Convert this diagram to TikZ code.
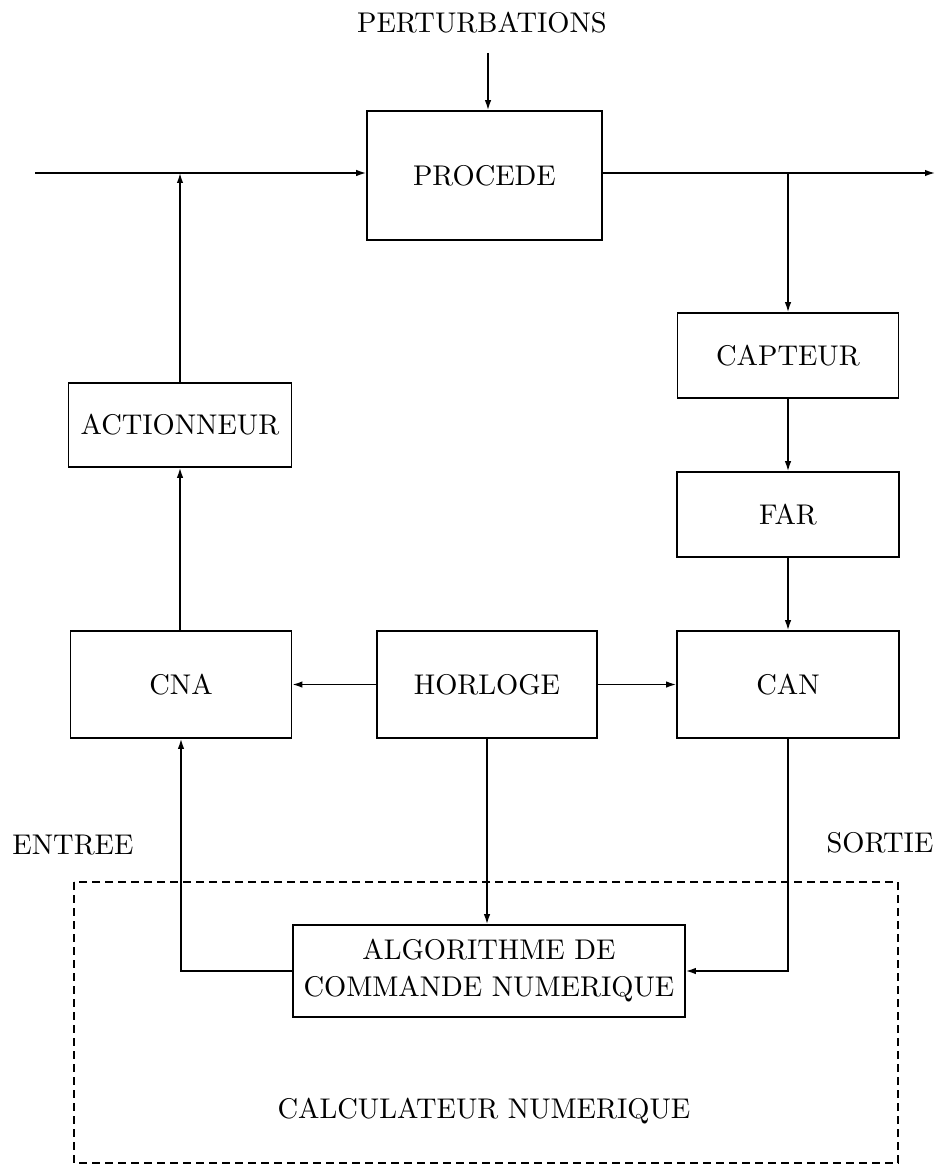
\documentclass[tikz,border=0pt]{standalone}
\usetikzlibrary{arrows.meta}
\font\bigrm=cmr10 at 28.5pt
\def\blkfont{\bigrm\baselineskip=37pt\relax}
\begin{document}
\begin{tikzpicture}[x=1pt,y=-1pt,
  blk/.style={draw,line width=1.7pt,inner sep=0pt,align=center,font=\blkfont},
  lbl/.style={inner sep=0pt,font=\bigrm},
  conn/.style={line width=1.5pt},
  arr/.style={conn,-{Latex[length=10pt,width=6.5pt]}},
  dashbox/.style={line width=2pt,dash pattern=on 8pt off 5pt}]
\useasboundingbox (0,0) rectangle (939,1166);
% boxes
\node[blk,minimum width=235pt,minimum height=129pt] (proc) at (484.5,175.5) {PROCEDE};
\node[blk,minimum width=223pt,minimum height=84pt] (act) at (180,425) {ACTIONNEUR};
\node[blk,minimum width=221pt,minimum height=85pt] (capt) at (788,355.5) {CAPTEUR};
\node[blk,minimum width=222pt,minimum height=85pt] (far) at (788,514.5) {FAR};
\node[blk,minimum width=221pt,minimum height=107pt] (cna) at (181,684.5) {CNA};
\node[blk,minimum width=220pt,minimum height=107pt] (horl) at (487,684.5) {HORLOGE};
\node[blk,minimum width=222pt,minimum height=107pt] (can) at (788,684.5) {CAN};
\node[blk,minimum width=392pt,minimum height=92pt] (algo) at (489,971) {ALGORITHME DE\\COMMANDE NUMERIQUE};
% labels
\node[lbl] (pert) at (482,23) {PERTURBATIONS};
\node[lbl] (entree) at (73,845) {ENTREE};
\node[lbl] (sortie) at (880,843) {SORTIE};
\node[lbl] (calc) at (484,1112) {CALCULATEUR NUMERIQUE};
% dashed computer box
\draw[dashbox] (74,882) rectangle (898,1163);
% free ends
\coordinate (in) at (35,173);
\coordinate (out) at (935,173);
\coordinate (pstart) at (488,53);
% connectors
\draw[arr] (pstart) -- (pstart |- proc.north);
\draw[arr] (in) -- (in -| proc.west);
\draw[arr] (proc.east |- in) -- (out);
\draw[arr] (capt.north |- in) -- (capt.north);
\draw[arr] (act.north) -- (act.north |- in);
\draw[arr] (cna.north -| act.south) -- (act.south);
\draw[arr] (capt.south) -- (far.north);
\draw[arr] (far.south) -- (can.north);
\draw[arr] (horl.west) -- (cna.east);
\draw[arr] (horl.east) -- (can.west);
\draw[arr] (horl.south) -- (horl.south |- algo.north);
\draw[arr] (can.south) |- (algo.east);
\draw[arr] (algo.west) -| (cna.south);
\end{tikzpicture}
\end{document}
